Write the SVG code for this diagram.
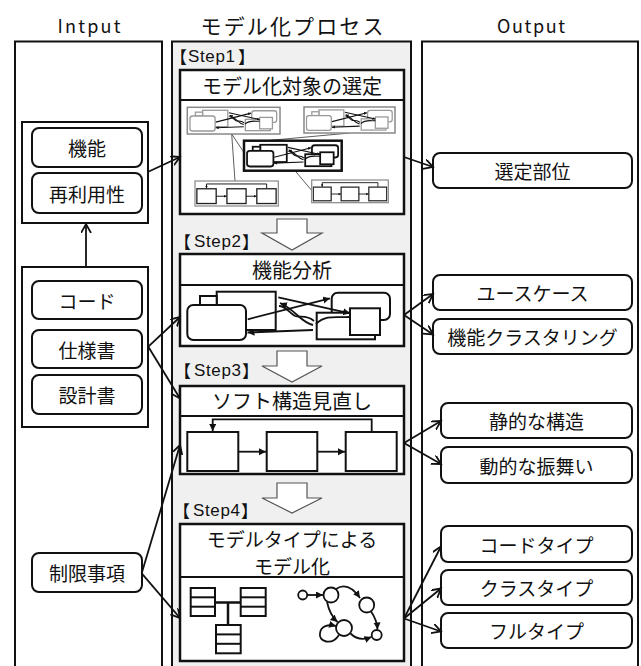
<svg xmlns="http://www.w3.org/2000/svg" xmlns:xlink="http://www.w3.org/1999/xlink" width="641" height="666" viewBox="0 0 641 666">
<style>
text{font-family:"Noto Sans CJK JP","Liberation Sans",sans-serif;fill:#111;dominant-baseline:central;text-anchor:middle;font-weight:normal}
.col{fill:#fff;stroke:#111;stroke-width:2}
.proc{fill:#f0f0f0;stroke:#111;stroke-width:2}
.grp{fill:#fff;stroke:#111;stroke-width:2}
.rb{fill:#fff;stroke:#111;stroke-width:2}
.lbl{font-size:19px}
.hdr{font-size:18px}
.step{font-size:17px;text-anchor:start}
.lat{font-family:"Liberation Sans",sans-serif}
.sbox{fill:#fff;stroke:#111;stroke-width:2.5}
.sep{stroke:#111;stroke-width:2}
.big{fill:#fff;stroke:#555;stroke-width:1.2}
.conn{fill:none;stroke:#111;stroke-width:1.8;marker-end:url(#open)}
.d{fill:#fff;stroke:currentColor;stroke-width:var(--sw,2)}
.da{fill:none;stroke:#111;stroke-width:var(--aw,1.8);marker-end:url(#fill)}
.thin{fill:none;stroke:#333;stroke-width:0.8}
</style>
<defs>
<marker id="open" markerUnits="userSpaceOnUse" markerWidth="12" markerHeight="12" refX="9" refY="5" orient="auto">
<path d="M0,0 L9,5 L0,10" fill="none" stroke="#111" stroke-width="1.8"/>
</marker>
<marker id="fill" markerUnits="userSpaceOnUse" markerWidth="10" markerHeight="10" refX="7" refY="3.5" orient="auto">
<path d="M0,0 L7,3.5 L0,7 Z" fill="#111"/>
</marker>
<symbol id="s2" viewBox="185 289 208 53">
<rect class="d" x="216.7" y="291.7" width="59" height="38.3"/>
<rect class="d" x="200" y="296" width="16.7" height="9"/>
<rect class="d" x="187.3" y="305" width="58.7" height="35" rx="6"/>
<rect class="d" x="331.7" y="292.7" width="58.3" height="27.3" rx="6"/>
<rect class="d" x="316.7" y="312.7" width="58.3" height="26.6"/>
<rect class="d" x="350" y="308.3" width="30" height="26.7"/>
<path class="da" d="M247.7,319.3 L330,298.3"/>
<path class="da" d="M278.3,297.3 L350,313.3"/>
<path class="da" d="M313,330 L247.5,332.5"/>
<path class="da" d="M313,325 C300,322 296,310 280,303"/>
<path fill="none" stroke="#111" style="stroke-width:var(--aw,1.8)" d="M314,321 C306,314 300,318 295,316 C288,312 286,306 279,306"/>
<path fill="none" stroke="#111" style="stroke-width:var(--aw,1.8)" d="M316,324 C326,314 338,318 350,317"/>
</symbol>
<symbol id="s3" viewBox="185 416 214 57">
<path class="da" d="M371.7,432 L371.7,419.3 L212.7,419.3 L212.7,431"/>
<rect class="d" x="187.3" y="432" width="51" height="39"/>
<rect class="d" x="266.7" y="432" width="50.6" height="39"/>
<rect class="d" x="345.7" y="432" width="51" height="39"/>
<path class="da" d="M238.3,451.7 L266,451.7"/>
<path class="da" d="M317.3,451.7 L345,451.7"/>
</symbol>
</defs>

<g id="columns">
<rect class="col" x="15" y="41.5" width="147" height="640"/>
<rect class="proc" x="172" y="41.5" width="239" height="640"/>
<rect class="col" x="422" y="41.5" width="216" height="640"/>
<text class="hdr" x="89" y="25" textLength="63">Intput</text>
<text style="font-size:21px" x="292" y="25" textLength="183">モデル化プロセス</text>
<text class="hdr" x="531" y="25" textLength="68">Output</text>
</g>

<g id="input-group1">
<rect class="grp" x="22" y="122" width="126" height="101"/>
<g id="kinou"><rect class="rb" x="32" y="128" width="110" height="39" rx="7"/><text class="lbl" x="87" y="147.5">機能</text></g>
<g id="reuse"><rect class="rb" x="32" y="173" width="110" height="40" rx="7"/><text class="lbl" x="87" y="193">再利用性</text></g>
</g>
<g id="input-group2">
<rect class="grp" x="22" y="267" width="126" height="160"/>
<g id="code"><rect class="rb" x="32" y="281" width="110" height="38" rx="7"/><text class="lbl" x="87" y="300">コード</text></g>
<g id="spec"><rect class="rb" x="32" y="330" width="110" height="38" rx="7"/><text class="lbl" x="87" y="349">仕様書</text></g>
<g id="design"><rect class="rb" x="32" y="375" width="110" height="39" rx="7"/><text class="lbl" x="87" y="394.5">設計書</text></g>
</g>
<g id="constraints"><rect class="rb" x="32" y="553" width="110" height="39" rx="7"/><text class="lbl" x="87" y="572.5">制限事項</text></g>

<g id="step1">
<text class="step" y="56"><tspan x="170">【</tspan><tspan class="lat" x="188" textLength="47">Step1</tspan><tspan x="238">】</tspan></text>
<rect class="sbox" x="180" y="70" width="224" height="144"/>
<line class="sep" x1="180" y1="100" x2="404" y2="100"/>
<text style="font-size:20px" x="292" y="85.5">モデル化対象の選定</text>
<line class="thin" x1="231.7" y1="134" x2="245" y2="154"/>
<line class="thin" x1="231.7" y1="134" x2="235" y2="181"/>
<line class="thin" x1="350" y1="133" x2="263" y2="141"/>
<line class="thin" x1="295" y1="170.7" x2="313" y2="192"/>
<rect x="187.3" y="107.3" width="92.7" height="26.7" fill="#fff" stroke="#888" stroke-width="1.5"/>
<use href="#s2" x="189" y="109" width="89" height="23" style="color:#999;--sw:3;--aw:2.6"/>
<rect x="304" y="107" width="91" height="26" fill="#fff" stroke="#888" stroke-width="1.5"/>
<use href="#s2" x="305.5" y="108.5" width="88" height="23" style="color:#999;--sw:3;--aw:2.6"/>
<rect x="244" y="140.7" width="97.7" height="30" fill="#fff" stroke="#111" stroke-width="2.5"/>
<use href="#s2" x="246" y="143" width="93.5" height="25" style="color:#111;--sw:4;--aw:2.6"/>
<rect x="195" y="181" width="83.3" height="25" fill="#fff" stroke="#888" stroke-width="1.2"/>
<use href="#s3" x="196" y="182" width="81" height="23" style="color:#222;--sw:3.5;--aw:2.5"/>
<rect x="311.7" y="180" width="76.6" height="22.7" fill="#fff" stroke="#888" stroke-width="1.2"/>
<use href="#s3" x="312.5" y="181" width="75" height="21" style="color:#222;--sw:3.5;--aw:2.5"/>
</g>

<g id="arrow12"><path class="big" d="M277,219 L307,219 L307,233 L322,233 L292,250 L262,233 L277,233 Z"/></g>

<g id="step2">
<text class="step" y="241"><tspan x="174">【</tspan><tspan class="lat" x="194" textLength="47">Step2</tspan><tspan x="242">】</tspan></text>
<rect class="sbox" x="180" y="254" width="224" height="92"/>
<line class="sep" x1="180" y1="285" x2="404" y2="285"/>
<text style="font-size:20px" x="292" y="269.5">機能分析</text>
<use href="#s2" x="185" y="289" width="208" height="53" style="color:#111"/>
</g>

<g id="arrow23"><path class="big" d="M277,351 L307,351 L307,366 L322,366 L292,382 L262,366 L277,366 Z"/></g>

<g id="step3">
<text class="step" y="370"><tspan x="174">【</tspan><tspan class="lat" x="194" textLength="47">Step3</tspan><tspan x="242">】</tspan></text>
<rect class="sbox" x="180" y="386" width="224" height="88"/>
<line class="sep" x1="180" y1="416" x2="404" y2="416"/>
<text style="font-size:20px" x="292" y="400.5">ソフト構造見直し</text>
<use href="#s3" x="185" y="416" width="214" height="57" style="color:#111"/>
</g>

<g id="arrow34"><path class="big" d="M277,483 L307,483 L307,498 L322,498 L292,513 L262,498 L277,498 Z"/></g>

<g id="step4">
<text class="step" y="510"><tspan x="173">【</tspan><tspan class="lat" x="193" textLength="47">Step4</tspan><tspan x="241">】</tspan></text>
<rect class="sbox" x="180" y="524" width="224" height="137"/>
<line class="sep" x1="180" y1="577" x2="404" y2="577"/>
<text style="font-size:19px" x="292" y="538">モデルタイプによる</text>
<text style="font-size:19px" x="292" y="565">モデル化</text>
<g fill="#fff" stroke="#111" stroke-width="2">
<rect x="190.7" y="588" width="24.3" height="28"/><line x1="190.7" y1="597.3" x2="215" y2="597.3"/><line x1="190.7" y1="606.7" x2="215" y2="606.7"/>
<rect x="240.7" y="588" width="25" height="28"/><line x1="240.7" y1="597.3" x2="265.7" y2="597.3"/><line x1="240.7" y1="606.7" x2="265.7" y2="606.7"/>
<rect x="216" y="625" width="24.7" height="28.3"/><line x1="216" y1="634.4" x2="240.7" y2="634.4"/><line x1="216" y1="643.8" x2="240.7" y2="643.8"/>
</g>
<path d="M215,602.5 L240.7,602.5 M228,602.5 L228,625" stroke="#111" stroke-width="2.5" fill="none"/>
<g fill="#fff" stroke="#111" stroke-width="1.8">
<circle cx="302.7" cy="595" r="4.5"/>
<circle cx="331" cy="595" r="7.5"/>
<circle cx="366.7" cy="605" r="7.5"/>
<circle cx="344" cy="628" r="8"/>
<circle cx="376.7" cy="635" r="5"/>
</g>
<path class="da" d="M307.2,595 L323,595"/>
<path class="da" d="M336,589 C345,583 353,588 360,598"/>
<path class="da" d="M371,611.5 C375,617 377,622 377.5,629.5"/>
<path class="da" d="M327,602 C329,611 332,617 337.5,622"/>
<path class="da" d="M350.5,633.5 C357,640 364,640 371.5,637"/>
<path class="da" d="M339,635 C332,646 318,642 320,633 C321,626 328,624 336,626"/>
</g>

<g id="out-select"><rect class="rb" x="433" y="153" width="199" height="35" rx="7"/><text class="lbl" x="532.5" y="170.5">選定部位</text></g>
<g id="out-usecase"><rect class="rb" x="433" y="275" width="199" height="35" rx="7"/><text class="lbl" x="532.5" y="292.5">ユースケース</text></g>
<g id="out-cluster"><rect class="rb" x="433" y="319" width="199" height="35" rx="7"/><text class="lbl" x="532.5" y="336.5">機能クラスタリング</text></g>
<g id="out-static"><rect class="rb" x="441" y="403" width="191" height="35" rx="7"/><text class="lbl" x="536.5" y="420.5">静的な構造</text></g>
<g id="out-dynamic"><rect class="rb" x="441" y="447" width="191" height="36" rx="7"/><text class="lbl" x="536.5" y="465">動的な振舞い</text></g>
<g id="out-codetype"><rect class="rb" x="441" y="526" width="191" height="36" rx="7"/><text class="lbl" x="536.5" y="544">コードタイプ</text></g>
<g id="out-classtype"><rect class="rb" x="441" y="570" width="191" height="35" rx="7"/><text class="lbl" x="536.5" y="587.5">クラスタイプ</text></g>
<g id="out-fulltype"><rect class="rb" x="441" y="613" width="191" height="35" rx="7"/><text class="lbl" x="536.5" y="630.5">フルタイプ</text></g>

<g id="connectors">
<path class="conn" d="M86,267 L86,224"/>
<path class="conn" d="M148.3,171.7 L180,157"/>
<path class="conn" d="M404,157 L433,167"/>
<path class="conn" d="M148.3,346.7 L180,317"/>
<path class="conn" d="M148.3,346.7 L180,398.5"/>
<path class="conn" d="M404,315 L433,294"/>
<path class="conn" d="M404,315 L433,334.5"/>
<path class="conn" d="M141.7,573.3 L180,445"/>
<path class="conn" d="M141.7,573.3 L180,618"/>
<path class="conn" d="M404,443 L441,421"/>
<path class="conn" d="M404,443 L441,464"/>
<path class="conn" d="M404,618.5 L441,546.5"/>
<path class="conn" d="M404,618.5 L441,588.5"/>
<path class="conn" d="M404,618.5 L441,631.5"/>
</g>
</svg>
